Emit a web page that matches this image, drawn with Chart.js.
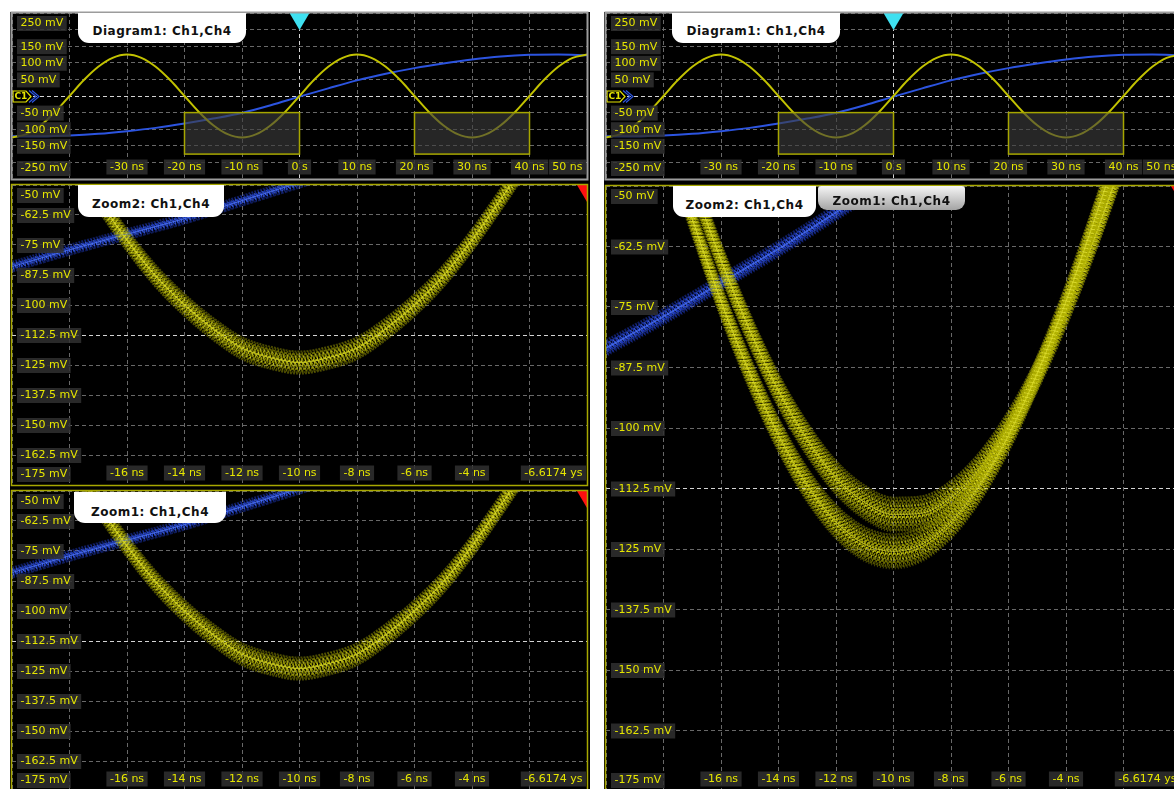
<!DOCTYPE html>
<html>
<head>
<meta charset="utf-8">
<script src="https://cdn.jsdelivr.net/npm/chart.js@4.4.1/dist/chart.umd.min.js"></script>
<style>
body { margin: 0; background: #fff; width: 1174px; height: 789px; overflow: hidden; position: relative; }
.col { position: absolute; top: 12px; height: 777px; background: #000; }
canvas { position: absolute; }
.tab { position: absolute; box-sizing: border-box; background: #fff; border-radius: 0 0 11px 11px;
       font: bold 12px "DejaVu Sans", sans-serif; letter-spacing: 0.5px; color: #111; text-align: center; line-height: 16px; }
.tab.off { background: linear-gradient(#f6f6f6, #a4a4a4); border-radius: 3px 3px 9px 9px; }
</style>
</head>
<body>
<div class="col" style="left:10px;width:580px"></div>
<div class="col" style="left:604px;width:570px"></div>

<canvas id="ovLeft" width="579" height="170" style="left:10px;top:11px"></canvas>
<canvas id="zoom2Left" width="579" height="304" style="left:10px;top:183px"></canvas>
<canvas id="zoom1Left" width="579" height="304" style="left:10px;top:489px"></canvas>
<canvas id="ovRight" width="579" height="170" style="left:604px;top:11px"></canvas>
<canvas id="zoomRight" width="579" height="609" style="left:604px;top:184px"></canvas>

<div class="tab" style="left:78px;top:13px;width:168px;height:30px;padding-top:10px">Diagram1: Ch1,Ch4</div>
<div class="tab" style="left:78px;top:185px;width:146px;height:32px;padding-top:11px">Zoom2: Ch1,Ch4</div>
<div class="tab" style="left:74px;top:492px;width:152px;height:31px;padding-top:12px">Zoom1: Ch1,Ch4</div>
<div class="tab" style="left:672px;top:13px;width:168px;height:30px;padding-top:10px">Diagram1: Ch1,Ch4</div>
<div class="tab" style="left:673px;top:186px;width:143px;height:31px;padding-top:11px">Zoom2: Ch1,Ch4</div>
<div class="tab off" style="left:818px;top:186px;width:147px;height:24px;padding-top:7px">Zoom1: Ch1,Ch4</div>

<script>
// Diagram1 (overview), time in ns, level in mV
const ovTime = [-50,-47.5,-45,-42.5,-40,-37.5,-35,-32.5,-30,-27.5,-25,-22.5,-20,-17.5,-15,-12.5,-10,-7.5,-5,-2.5,
                0,2.5,5,7.5,10,12.5,15,17.5,20,22.5,25,27.5,30,32.5,35,37.5,40,42.5,45,47.5,50];
const ovCh1 = [-125,-115,-88,-48,0,48,88,115,125,115,88,48,0,-48,-88,-115,-125,-115,-88,-48,
               0,48,88,115,125,115,88,48,0,-48,-88,-115,-125,-115,-88,-48,0,48,88,115,125];
const ovCh4Time = [-50,-45,-40,-35,-30,-25,-20,-15,-10,-5,0,5,10,15,20,25,30,35,40,45,50];
const ovCh4 = [-121,-121,-119,-114,-106,-96,-83,-68,-51,-28,-2,23,47,67,84,98,110,119,124,125,123];
const ovTimeLabels = ['', '', '-30 ns', '-20 ns', '-10 ns', '0 s', '10 ns', '20 ns', '30 ns', '40 ns', '50 ns'];
const ovVoltLabels = ['-250 mV', '', '-150 mV', '-100 mV', '-50 mV', '', '50 mV', '100 mV', '150 mV', '', '250 mV'];

// zoom windows shown on the overview: [t start, t end, v low, v high]
const zoomWindows = [[-20, 0, -175, -50], [20, 40, -175, -50]];

// Zoom1 / Zoom2 (left column)
const zoomTime = [-20,-19,-18,-17,-16,-15,-14,-13,-12,-11,-10,-9,-8,-7,-6,-5,-4,-3,-2,-1,0];
const zoomCh1 = [0,-19,-38,-56,-73,-88,-100,-110,-118,-122,-124,-122,-118,-110,-100,-88,-73,-56,-38,-19,0];
const zoomCh4Time = [-20,-18,-16,-14,-12,-10,-8];
const zoomCh4 = [-84,-77,-70.5,-64,-56.5,-49,-41.5];

// Zoom2 (right column, larger), two overlapping Ch1 traces
const bigCh1Lower = [0,-19.6,-38.8,-56.8,-73.8,-88.7,-101.5,-111.8,-119.4,-124,-125.5,-124,-119.4,-111.8,-101.5,-88.7,-73.8,-56.8,-38.8,-19.6,0];
const bigCh1Upper = [5.6,-12.9,-31.2,-48.9,-65.3,-79.8,-92.3,-102.4,-110.3,-115.4,-117.9,-117.6,-114.4,-108.5,-99.9,-88.9,-75.7,-60.6,-44,-26.4,-8.1];
const bigCh4 = [-83.5,-77,-70,-63,-55.5,-48,-40.5];

const zoomTimeLabels = ['', '', '-16 ns', '-14 ns', '-12 ns', '-10 ns', '-8 ns', '-6 ns', '-4 ns', '', '-6.6174 ys'];
const zoomVoltLabels = ['-175 mV', '-162.5 mV', '-150 mV', '-137.5 mV', '-125 mV', '-112.5 mV',
                        '-100 mV', '-87.5 mV', '-75 mV', '-62.5 mV', '-50 mV'];

const triggerTime = 0;

function pts(xs, ys) {
    return xs.map((x, i) => ({ x: x, y: ys[i] }));
}

const dashes = [[2, 1], [1, 2], [3, 1], [2, 2], [1, 1]];

const scopePlugin = {
    id: 'scope',
    // persistence look: smear the trace vertically before the sharp line is drawn
    beforeDatasetDraw(chart, args) {
        const b = chart.data.datasets[args.index].band;
        if (!b) return;
        const ctx = chart.ctx, a = chart.chartArea;
        const line = args.meta.dataset;
        if (line.updateControlPoints) line.updateControlPoints(a, 'x');
        ctx.save();
        ctx.beginPath();
        ctx.rect(a.left, a.top, a.width, a.height);
        ctx.clip();
        ctx.lineJoin = 'round';
        const stroke = (dy, style, dash, off) => {
            ctx.save();
            ctx.translate(0, dy);
            ctx.strokeStyle = style;
            ctx.lineWidth = b.width;
            ctx.setLineDash(dash);
            ctx.lineDashOffset = off;
            ctx.beginPath();
            line.path(ctx);
            ctx.stroke();
            ctx.restore();
        };
        for (let k = 0; k < b.passes; k++) {
            const u = 2 * k / (b.passes - 1) - 1;
            const alpha = 0.4 + 0.55 * (1 - Math.abs(u));
            stroke(b.spread * u, 'rgba(' + b.base + ',' + alpha.toFixed(2) + ')', dashes[k % 5], k * 1.7);
        }
        for (let m = 0; m < 4; m++) {
            const u = (m / 1.5 - 1) * 0.5;
            stroke(b.spread * u, 'rgba(' + b.bright + ',0.6)', [1, 3], m * 2.3);
        }
        ctx.restore();
    },
    afterDatasetsDraw(chart, args, o) {
        const ctx = chart.ctx, a = chart.chartArea;
        const x = chart.scales.x, y = chart.scales.y;
        ctx.save();

        (o.windows || []).forEach(w => {
            const x1 = x.getPixelForValue(w[0]), x2 = x.getPixelForValue(w[1]);
            const y1 = y.getPixelForValue(w[3]), y2 = y.getPixelForValue(w[2]);
            ctx.fillStyle = 'rgba(62,62,62,0.62)';
            ctx.fillRect(x1, y1, x2 - x1, y2 - y1);
            ctx.strokeStyle = '#a6a600';
            ctx.lineWidth = 1.5;
            ctx.strokeRect(x1, y1, x2 - x1, y2 - y1);
        });

        // trigger marker
        ctx.save();
        ctx.beginPath();
        ctx.rect(a.left, a.top, a.width, a.height);
        ctx.clip();
        const tx = x.getPixelForValue(triggerTime);
        ctx.fillStyle = o.trigger;
        ctx.beginPath();
        ctx.moveTo(tx - 10, a.top);
        ctx.lineTo(tx + 10, a.top);
        ctx.lineTo(tx, a.top + 17);
        ctx.closePath();
        ctx.fill();
        ctx.restore();

        // tick labels
        ctx.font = '11px "DejaVu Sans", sans-serif';
        ctx.textBaseline = 'middle';
        y.ticks.forEach((t, i) => {
            const s = o.yLabels[i];
            if (!s) return;
            const py = Math.min(Math.max(y.getPixelForTick(i), a.top + 10), a.bottom - 11);
            const w = ctx.measureText(s).width + 7;
            ctx.fillStyle = 'rgba(48,48,48,0.85)';
            ctx.fillRect(a.left + 5, py - 7, w, 15);
            ctx.fillStyle = '#e6e600';
            ctx.fillText(s, a.left + 8.5, py + 0.5);
        });
        x.ticks.forEach((t, i) => {
            const s = o.xLabels[i];
            if (!s) return;
            const w = ctx.measureText(s).width + 7;
            const bx = Math.min(x.getPixelForTick(i) - w / 2, a.right - 1 - w);
            const by = a.bottom - 12;
            ctx.fillStyle = 'rgba(48,48,48,0.85)';
            ctx.fillRect(bx, by - 7.5, w, 15);
            ctx.fillStyle = '#e6e600';
            ctx.fillText(s, bx + 3.5, by);
        });

        // channel offset marker
        if (o.channel) {
            const py = Math.round(y.getPixelForValue(0)) + 0.5;
            const lx = a.left;
            ctx.lineWidth = 1.2;
            ctx.strokeStyle = '#2c54e0';
            ctx.beginPath();
            ctx.moveTo(lx + 17, py - 6); ctx.lineTo(lx + 24, py); ctx.lineTo(lx + 17, py + 6);
            ctx.moveTo(lx + 20, py - 6); ctx.lineTo(lx + 27, py); ctx.lineTo(lx + 20, py + 6);
            ctx.stroke();
            ctx.fillStyle = '#000';
            ctx.strokeStyle = '#e6e600';
            ctx.beginPath();
            ctx.moveTo(lx + 1, py - 5.5); ctx.lineTo(lx + 14, py - 5.5); ctx.lineTo(lx + 19, py);
            ctx.lineTo(lx + 14, py + 5.5); ctx.lineTo(lx + 1, py + 5.5); ctx.closePath();
            ctx.fill();
            ctx.stroke();
            ctx.fillStyle = '#e6e600';
            ctx.font = 'bold 9px "DejaVu Sans", sans-serif';
            ctx.fillText('C1', lx + 2.5, py + 0.5);
        }

        ctx.strokeStyle = o.frame;
        ctx.lineWidth = o.frameWidth;
        ctx.strokeRect(a.left - 0.5, a.top - 0.5, a.width + 1, a.height + 1);
        ctx.restore();
    }
};

function scope(id, c) {
    const gridColor = (center) => (g) =>
        g.tick && Math.abs(g.tick.value - center) < 1e-6 ? '#d4d4d4' : '#686868';
    return new Chart(document.getElementById(id), {
        type: 'line',
        data: { datasets: c.datasets },
        options: {
            responsive: false,
            animation: false,
            events: [],
            layout: { padding: 2 },
            elements: {
                point: { radius: 0 },
                line: { cubicInterpolationMode: 'monotone' }
            },
            plugins: {
                legend: { display: false },
                tooltip: { enabled: false },
                scope: c.deco
            },
            scales: {
                x: {
                    type: 'linear', min: c.x[0], max: c.x[1],
                    ticks: { stepSize: c.x[2], display: false },
                    grid: { color: gridColor(c.xCenter), drawTicks: false },
                    border: { display: false, dash: [4, 3] }
                },
                y: {
                    type: 'linear', min: c.y[0], max: c.y[1],
                    ticks: { stepSize: c.y[2], display: false },
                    grid: { color: gridColor(c.yCenter), drawTicks: false },
                    border: { display: false, dash: [4, 3] }
                }
            }
        },
        plugins: [scopePlugin]
    });
}

const yellowBand = { base: '178,178,0', bright: '245,245,70', width: 2 };
const blueBand = { base: '36,66,215', bright: '80,125,255', width: 2 };

function overview(id) {
    scope(id, {
        x: [-50, 50, 10], y: [-250, 250, 50], xCenter: 0, yCenter: 0,
        datasets: [
            { data: pts(ovTime, ovCh1), borderColor: '#c2c200', borderWidth: 2, clip: 0 },
            { data: pts(ovCh4Time, ovCh4), borderColor: '#2c54e0', borderWidth: 2, clip: 0 }
        ],
        deco: { xLabels: ovTimeLabels, yLabels: ovVoltLabels, windows: zoomWindows,
                trigger: '#3fe0f0', channel: true, frame: '#9c9c9c', frameWidth: 2 }
    });
}

function zoomLeft(id) {
    scope(id, {
        x: [-20, 0, 2], y: [-175, -50, 12.5], xCenter: 99, yCenter: -112.5,
        datasets: [
            { data: pts(zoomTime, zoomCh1), borderColor: 'rgba(235,235,60,0.55)', borderWidth: 1.2, clip: 0,
              band: Object.assign({ spread: 11, passes: 16 }, yellowBand) },
            { data: pts(zoomCh4Time, zoomCh4), borderColor: 'rgba(80,120,255,0.7)', borderWidth: 1.2, clip: 0,
              band: Object.assign({ spread: 5, passes: 8 }, blueBand) }
        ],
        deco: { xLabels: zoomTimeLabels, yLabels: zoomVoltLabels, trigger: '#ff1010',
                frame: '#a8a800', frameWidth: 1.5 }
    });
}

overview('ovLeft');
overview('ovRight');
zoomLeft('zoom2Left');
zoomLeft('zoom1Left');

scope('zoomRight', {
    x: [-20, 0, 2], y: [-175, -50, 12.5], xCenter: 99, yCenter: -112.5,
    datasets: [
        { data: pts(zoomTime, bigCh1Lower), borderColor: 'rgba(235,235,60,0.5)', borderWidth: 1.2, clip: 0,
          band: Object.assign({ spread: 17, passes: 22 }, yellowBand) },
        { data: pts(zoomTime, bigCh1Upper), borderColor: 'rgba(235,235,60,0.5)', borderWidth: 1.2, clip: 0,
          band: Object.assign({ spread: 17, passes: 22 }, yellowBand) },
        { data: pts(zoomCh4Time, bigCh4), borderColor: 'rgba(80,120,255,0.7)', borderWidth: 1.5, clip: 0,
          band: Object.assign({ spread: 8, passes: 12 }, blueBand) }
    ],
    deco: { xLabels: zoomTimeLabels, yLabels: zoomVoltLabels, trigger: '#ff1010',
            frame: '#a8a800', frameWidth: 1.5 }
});
</script>
</body>
</html>
